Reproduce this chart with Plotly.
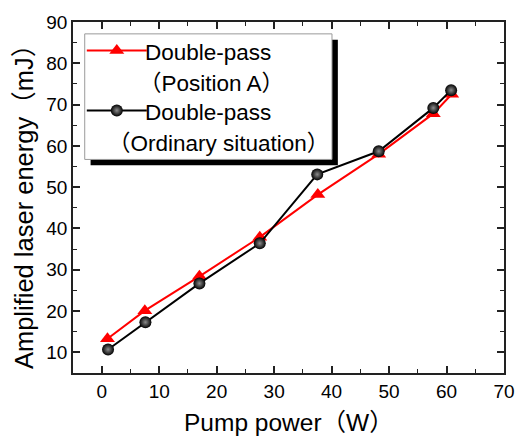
import plotly.graph_objects as go

# ---- data ----
pump_a = [1.0, 7.5, 17.0, 27.5, 37.6, 48.2, 57.7, 60.9]
energy_a = [13.3, 20.1, 28.4, 37.9, 48.2, 58.0, 67.8, 72.5]

pump_o = [1.1, 7.6, 17.0, 27.5, 37.5, 48.2, 57.7, 60.8]
energy_o = [10.7, 17.3, 26.7, 36.4, 53.1, 58.7, 69.2, 73.5]

x_ticks = [0, 10, 20, 30, 40, 50, 60, 70]
y_ticks = [10, 20, 30, 40, 50, 60, 70, 80, 90]

label_a = ["Double-pass", "（Position A）"]
label_o = ["Double-pass", "（Ordinary situation）"]
x_title = "Pump power（W）"
y_title = "Amplified laser energy（mJ）"

FONT = "Arial, 'Liberation Sans', 'Noto Sans CJK SC', sans-serif"

W, H = 527, 437
L, R, T, B = 73, 13, 18, 64
PW, PH = W - L - R, H - T - B


def px(xp):
    return (xp - L) / PW


def py(yp):
    return (H - B - yp) / PH


fig = go.Figure()
fig.add_trace(go.Scatter(
    x=pump_a, y=energy_a, mode="lines+markers", name="",
    line=dict(color="#ff0000", width=2),
    marker=dict(symbol="triangle-up", size=13, color="#ff0000"),
    legendgroup="a", legendrank=1,
))
fig.add_trace(go.Scatter(
    x=pump_o, y=energy_o, mode="lines+markers", name="",
    line=dict(color="#000000", width=2),
    marker=dict(symbol="circle", size=12, color="#000000",
                gradient=dict(type="radial", color="#8c8c8c")),
    legendgroup="o", legendrank=2,
))

axis_common = dict(
    showline=True, linecolor="#222222", linewidth=1.5, mirror="ticks",
    ticks="inside", ticklen=7, tickwidth=1.5, tickcolor="#222222",
    showgrid=False, zeroline=False,
    tickfont=dict(family=FONT, size=19, color="#000000"),
    minor=dict(ticks="inside", ticklen=4, tickwidth=1.2, tickcolor="#222222", dtick=5, showgrid=False),
)

fig.update_xaxes(range=[-5, 70], tickvals=x_ticks, **axis_common)
fig.update_yaxes(range=[5, 90], tickvals=y_ticks, **axis_common)

shapes = [
    dict(type="rect", xref="paper", yref="paper",
         x0=px(91), x1=px(344), y0=py(163), y1=py(36),
         fillcolor="#000000", line=dict(width=0), layer="above"),
    dict(type="rect", xref="paper", yref="paper",
         x0=px(85), x1=px(338), y0=py(157), y1=py(30),
         fillcolor="#ffffff", line=dict(color="#9a9a9a", width=1), layer="above"),
]

annotations = [
    dict(text=label_a[0], x=px(145), y=py(49), xanchor="left", yanchor="middle"),
    dict(text=label_a[1], x=px(215), y=py(80), xanchor="center", yanchor="middle"),
    dict(text=label_o[0], x=px(145), y=py(110), xanchor="left", yanchor="middle"),
    dict(text=label_o[1], x=px(222), y=py(141), xanchor="center", yanchor="middle"),
]
for a in annotations:
    a.update(xref="paper", yref="paper", showarrow=False,
             font=dict(family=FONT, size=22.5, color="#000000"))

annotations.append(dict(text=x_title, xref="paper", yref="paper", x=px(294), y=py(423),
                        xanchor="center", yanchor="middle", showarrow=False,
                        font=dict(family=FONT, size=24.5, color="#000000")))
annotations.append(dict(text=y_title, xref="paper", yref="paper", x=px(23), y=py(199),
                        xanchor="center", yanchor="middle", textangle=-90, showarrow=False,
                        font=dict(family=FONT, size=25.5, color="#000000")))

fig.update_layout(
    width=W, height=H,
    margin=dict(l=L, r=R, t=T, b=B),
    paper_bgcolor="#ffffff", plot_bgcolor="#ffffff",
    font=dict(family=FONT, color="#000000"),
    shapes=shapes, annotations=annotations,
    showlegend=True,
    legend=dict(x=px(82), y=py(27), xanchor="left", yanchor="top",
                bgcolor="rgba(0,0,0,0)", borderwidth=0,
                font=dict(size=20), itemwidth=60, tracegroupgap=31,
                traceorder="grouped", valign="top"),
)

fig.write_html("out.html")
